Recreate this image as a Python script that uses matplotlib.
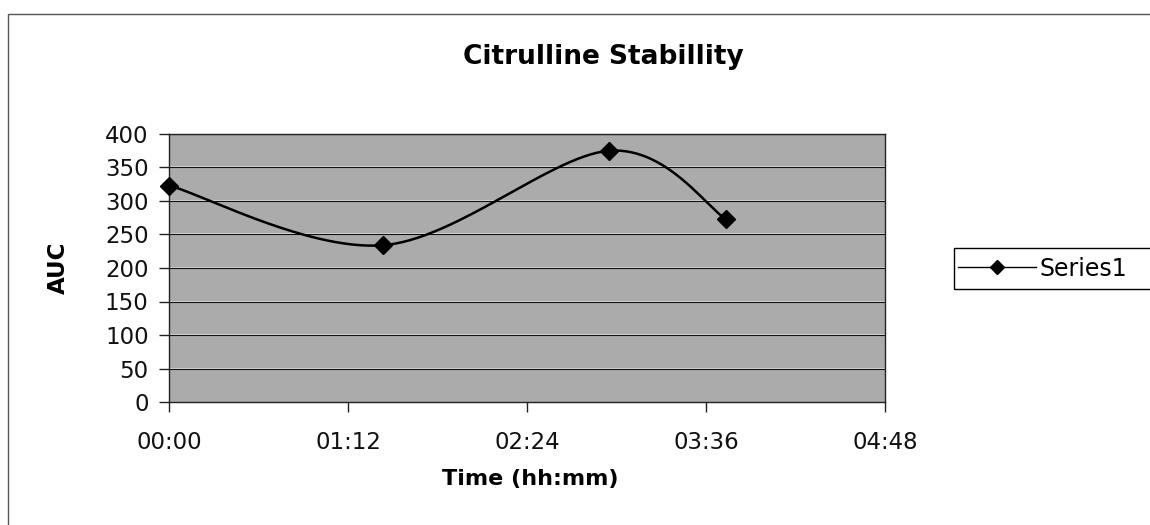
import numpy as np
import matplotlib
matplotlib.use("Agg")
import matplotlib.pyplot as plt
from matplotlib.patches import Rectangle
from matplotlib.lines import Line2D

# Data (time in minutes, AUC)
time_min = [0, 86, 177, 224]
auc = [323, 234, 375, 273]
series_name = "Series1"
x_ticks = [0, 72, 144, 216, 288]
x_tick_labels = ["00:00", "01:12", "02:24", "03:36", "04:48"]
y_ticks = [0, 50, 100, 150, 200, 250, 300, 350, 400]

plt.rcParams['font.family'] = ['DejaVu Sans']

def smooth(xs, ys, n=60):
    # Catmull-Rom style bezier smoothing (like Excel's smoothed line)
    xs = np.asarray(xs, float); ys = np.asarray(ys, float)
    P = np.column_stack([xs, ys])
    out = []
    for i in range(len(P) - 1):
        p0 = P[i - 1] if i > 0 else P[i]
        p1 = P[i]; p2 = P[i + 1]
        p3 = P[i + 2] if i + 2 < len(P) else P[i + 1]
        c1 = p1 + (p2 - p0) / 6.0
        c2 = p2 - (p3 - p1) / 6.0
        t = np.linspace(0, 1, n)[:, None]
        seg = ((1 - t) ** 3) * p1 + 3 * ((1 - t) ** 2) * t * c1 + 3 * (1 - t) * t ** 2 * c2 + t ** 3 * p2
        out.append(seg if i == 0 else seg[1:])
    s = np.vstack(out)
    return s[:, 0], s[:, 1]

W, H = 1150, 525
fig = plt.figure(figsize=(W / 100, H / 100), dpi=100)
fig.patch.set_facecolor('white')

# chart-area frame
fig.add_artist(Rectangle((8 / W, -0.1), 1.2, 1.1 - 14 / H, transform=fig.transFigure,
                         fill=False, edgecolor='#555555', linewidth=1.0))

ax = fig.add_axes([169.5 / W, 1 - 402 / H, (885 - 169.5) / W, (402 - 134) / H])
ax.set_facecolor('#ababab')
ax.set_xlim(0, 288)
ax.set_ylim(0, 400)

for v in y_ticks[1:]:
    ax.axhline(v, color='#dddddd', linewidth=1.4, zorder=1, alpha=0.9)
    ax.axhline(v, color='#111111', linewidth=0.8, zorder=1.1)

sx, sy = smooth(time_min, auc)
ax.plot(sx, sy, color='black', linewidth=1.8, zorder=3)
ax.plot(time_min, auc, linestyle='none', marker='D', markersize=9, color='black', zorder=4,
        clip_on=False)

ax.set_xticks(x_ticks)
ax.set_xticklabels(x_tick_labels)
ax.set_yticks(y_ticks)
ax.tick_params(axis='both', direction='out', length=7, width=1, color='#222222',
               labelsize=16.5, colors='#111111')
ax.tick_params(axis='x', pad=14)
ax.tick_params(axis='y', pad=8)
for sp in ax.spines.values():
    sp.set_color('#222222')
    sp.set_linewidth(1.0)

fig.text(530 / W, 1 - 479 / H, 'Time (hh:mm)', ha='center', va='center',
         fontsize=16, fontweight='bold')
fig.text(58 / W, 1 - 268 / H, 'AUC', ha='center', va='center', rotation=90,
         fontsize=16.5, fontweight='bold')
fig.text(603 / W, 1 - 57 / H, 'Citrulline Stabillity', ha='center', va='center',
         fontsize=19, fontweight='bold')

# legend box (extends past the right edge as in the reference)
fig.add_artist(Rectangle((954 / W, 1 - 289 / H), 0.3, 41 / H, transform=fig.transFigure,
                         fill=False, edgecolor='black', linewidth=1.0))
handle = Line2D([], [], color='black', linewidth=1.0, marker='D', markersize=7)
leg = fig.legend([handle], [series_name], loc='center left',
                 bbox_to_anchor=(958 / W, 1 - 268.5 / H), frameon=False, fontsize=17,
                 borderpad=0.0, borderaxespad=0.0, handlelength=3.3, handletextpad=0.15)

fig.savefig('out.png', dpi=100)
